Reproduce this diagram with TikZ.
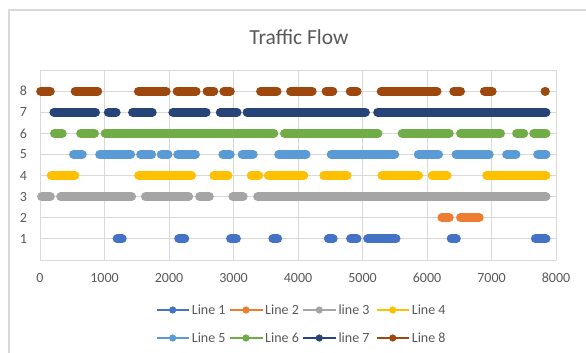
\documentclass[tikz,border=0pt]{standalone}
\usepackage{fontspec}
\setmainfont{Carlito}
\definecolor{SerOne}  {HTML}{4472C4}
\definecolor{SerTwo}  {HTML}{ED7D31}
\definecolor{SerThree}{HTML}{A5A5A5}
\definecolor{SerFour} {HTML}{FFC000}
\definecolor{SerFive} {HTML}{5B9BD5}
\definecolor{SerSix}  {HTML}{70AD47}
\definecolor{SerSeven}{HTML}{264478}
\definecolor{SerEight}{HTML}{9E480E}
\definecolor{GridGray}{HTML}{D9D9D9}
\definecolor{TextGray}{HTML}{595959}
\usetikzlibrary{positioning}

\begin{document}
\begin{tikzpicture}[x=1pt,y=-1pt,
  frame/.style={draw=GridGray,line width=1.2pt},
  grid/.style={draw=GridGray,line width=0.9pt},
  seg/.style={line width=9pt,line cap=round},
  ticklab/.style={font=\fontsize{14}{16}\selectfont,text=TextGray,inner sep=0pt},
  legline/.style={line width=2pt},
  legtext/.style={font=\fontsize{14}{16}\selectfont,text=TextGray,
                  inner sep=0pt,anchor=west}]
  \useasboundingbox (0,0) rectangle (586,353);
  \draw[frame] (9,353) -- (9,10) -- (586,10);
  \node[font=\fontsize{21.5}{24}\selectfont,text=TextGray] (title) at (299,37) {Traffic Flow};

  % plot area, in data units
  \begin{scope}[shift={(40,260)},x=0.0645pt,y=21.11pt]
    \foreach \k in {1,...,9} \draw[grid] (0,\k) -- (8000,\k);
    \foreach \v in {1000,2000,...,8000} \draw[grid] (\v,0) -- (\v,9);
    \draw[grid] (0,9) -- (0,0) -- (8000,0);
    \foreach \v in {0,1000,...,8000} \node[ticklab] (xl\v) at (\v,-0.84) {\v};
    \foreach \k in {1,...,8} \node[ticklab,anchor=east] (yl\k) at (-200,\k) {\k};

    % Line 1
    \foreach \a/\b in {1195/1275,2150/2245,2955/3045,3610/3685,4470/4545,
                       4815/4915,5080/5520,6375/6455,7680/7845}
      \draw[seg,SerOne] (\a,1) -- (\b,1);
    % Line 2
    \foreach \a/\b in {6230/6345,6520/6810}
      \draw[seg,SerTwo] (\a,2) -- (\b,2);
    % line 3
    \foreach \a/\b in {25/160,320/1420,1635/2305,2475/2625,2990/3150,3375/7845}
      \draw[seg,SerThree] (\a,3) -- (\b,3);
    % Line 4
    \foreach \a/\b in {175/540,1530/2350,2695/2915,3275/3390,3540/4090,
                       4400/4760,5300/5870,6080/6310,6925/7845}
      \draw[seg,SerFour] (\a,4) -- (\b,4);
    % Line 5
    \foreach \a/\b in {520/655,925/1405,1560/1730,1880/1985,2135/2410,
                       2835/2950,3135/3305,3700/4125,4515/5500,5865/6180,
                       6450/6965,7235/7380,7715/7845}
      \draw[seg,SerFive] (\a,5) -- (\b,5);
    % Line 6
    \foreach \a/\b in {225/345,630/845,1010/3625,3790/5240,5615/6345,
                       6520/7140,7390/7500,7655/7845}
      \draw[seg,SerSix] (\a,6) -- (\b,6);
    % Line 7
    \foreach \a/\b in {215/860,1060/1180,1435/1740,2060/2575,2795/3055,
                       3210/5045,5235/7845}
      \draw[seg,SerSeven] (\a,7) -- (\b,7);
    % Line 8
    \foreach \a/\b in {10/160,545/895,1525/1955,2125/2420,2590/2695,
                       2850/2950,3420/3675,3885/4220,4435/4540,4810/4915,
                       5290/6155,6415/6520,6890/7010,7830/7835}
      \draw[seg,SerEight] (\a,8) -- (\b,8);
  \end{scope}

  % legend
  \foreach \lx/\ly/\c/\t in {156.7/310/SerOne/Line 1,230/310/SerTwo/Line 2,
      303.3/310/SerThree/line 3,376.7/310/SerFour/Line 4,
      156.7/338/SerFive/Line 5,230/338/SerSix/Line 6,
      303.3/338/SerSeven/line 7,376.7/338/SerEight/Line 8}{
    \draw[legline,\c] (\lx,\ly) -- ++(32.6,0);
    \fill[\c] (\lx+16,\ly) circle[radius=3.6pt];
    \node[legtext] (leg\c) at (\lx+35,\ly) {\t};
  }
\end{tikzpicture}
\end{document}
